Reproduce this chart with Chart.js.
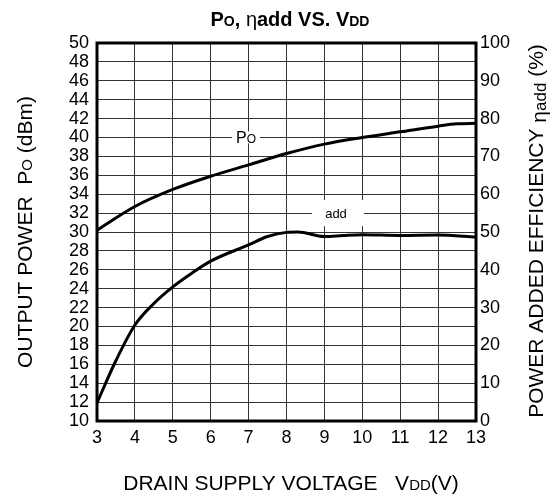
<!DOCTYPE html>
<html>
<head>
<meta charset="utf-8">
<script src="https://cdn.jsdelivr.net/npm/chart.js@4"></script>
<style>
html,body{margin:0;padding:0;background:#fff;}
canvas{display:block;}
</style>
</head>
<body>
<canvas id="c" width="551" height="497"></canvas>
<script>
// ---- data ----
const poVoltage = [3, 4, 5, 6, 7, 8, 9, 10, 11, 12, 12.5, 13];
const poDbm = [30.2, 32.7, 34.5, 35.9, 37.1, 38.3, 39.3, 40.0, 40.6, 41.2, 41.45, 41.5];
const effVoltage = [3, 3.5, 4, 4.5, 5, 5.5, 6, 7, 7.5, 8, 8.3, 9, 9.5, 10, 11, 12, 13];
const effPercent = [4.8, 16, 25.4, 31.1, 35.5, 39.1, 42.3, 46.6, 48.8, 49.9, 50.0, 48.8, 49.1, 49.3, 49.1, 49.2, 48.7];
const xTicks = [3, 4, 5, 6, 7, 8, 9, 10, 11, 12, 13];
const leftTicks = [10,12,14,16,18,20,22,24,26,28,30,32,34,36,38,40,42,44,46,48,50];
const rightTicks = [0,10,20,30,40,50,60,70,80,90,100];

const FONT = '"Liberation Sans", Arial, Helvetica, sans-serif';

function richWidth(ctx, parts, base){
  let w = 0;
  for (const p of parts){
    ctx.font = (p.bold?'bold ':'') + (p.size||base) + 'px ' + FONT;
    w += ctx.measureText(p.t).width;
  }
  return w;
}
function drawRich(ctx, parts, cx, cy, base, rot){
  ctx.save();
  ctx.translate(cx, cy);
  if (rot) ctx.rotate(rot);
  const w = richWidth(ctx, parts, base);
  let x = -w/2;
  ctx.textBaseline = 'alphabetic';
  ctx.textAlign = 'left';
  ctx.fillStyle = '#000';
  for (const p of parts){
    ctx.font = (p.bold?'bold ':'') + (p.size||base) + 'px ' + FONT;
    ctx.fillText(p.t, x, base*0.36 + (p.dy||0));
    x += ctx.measureText(p.t).width;
  }
  ctx.restore();
}

const decor = {
  id: 'decor',
  beforeDatasetsDraw(chart){
    const ctx = chart.ctx;
    const ys = chart.scales.y;
    // label "Po" on the 40 dBm grid line
    const py = ys.getPixelForValue(40);
    ctx.save();
    ctx.fillStyle = '#fff';
    ctx.fillRect(232, py-6, 28, 12);
    ctx.restore();
    drawRich(ctx, [{t:'P', size:16},{t:'O', size:12}], 246, py, 16, 0);
    // label "add" on the 32 dBm grid line
    const ay = ys.getPixelForValue(32);
    ctx.save();
    ctx.fillStyle = '#fff';
    ctx.fillRect(312, ay-13, 52, 26);
    ctx.restore();
    drawRich(ctx, [{t:'add', size:13}], 336, ay, 13, 0);
  },
  afterDraw(chart){
    const ctx = chart.ctx;
    const a = chart.chartArea;
    ctx.save();
    ctx.strokeStyle = '#000';
    ctx.lineWidth = 3;
    ctx.strokeRect(a.left, a.top, a.right-a.left, a.bottom-a.top);
    ctx.restore();
    // title
    drawRich(ctx, [
      {t:'P', size:20, bold:true},{t:'O', size:14, bold:true},{t:', ', size:20, bold:true},
      {t:'η', size:20, bold:false},{t:'add VS. V', size:20, bold:true},{t:'DD', size:14, bold:true}
    ], 290, 19, 20, 0);
    // left axis title
    drawRich(ctx, [
      {t:'OUTPUT POWER  P', size:21},{t:'O', size:15},{t:' (dBm)', size:21}
    ], 24, 232, 21, -Math.PI/2);
    // right axis title
    drawRich(ctx, [
      {t:'POWER ADDED EFFICIENCY ', size:21},{t:'η', size:21, dy:3},{t:'add', size:17, dy:3},{t:' (%)', size:21}
    ], 535, 231, 21, -Math.PI/2);
    // x axis title
    drawRich(ctx, [
      {t:'DRAIN SUPPLY VOLTAGE   V', size:21},{t:'DD', size:15},{t:'(V)', size:21}
    ], 291, 482, 21, 0);
  }
};

new Chart(document.getElementById('c'), {
  type: 'line',
  data: {
    datasets: [
      {
        label: 'Po',
        data: poVoltage.map((v,i)=>({x:v, y:poDbm[i]})),
        yAxisID: 'y',
        borderColor: '#000',
        borderWidth: 3,
        pointRadius: 0,
        fill: false,
        cubicInterpolationMode: 'monotone'
      },
      {
        label: 'ηadd',
        data: effVoltage.map((v,i)=>({x:v, y:effPercent[i]})),
        yAxisID: 'y2',
        borderColor: '#000',
        borderWidth: 3,
        pointRadius: 0,
        fill: false,
        cubicInterpolationMode: 'monotone'
      }
    ]
  },
  options: {
    responsive: false,
    animation: false,
    devicePixelRatio: 1,
    layout: { padding: { top: 43, left: 0, right: 0, bottom: 0 } },
    plugins: { legend: { display: false }, title: { display: false }, tooltip: { enabled: false } },
    scales: {
      x: {
        type: 'linear', min: 3, max: 13,
        afterBuildTicks(s){ s.ticks = xTicks.map(v=>({value:v})); },
        afterFit(s){ s.height = 76; },
        grid: { color: '#333', lineWidth: 1, drawTicks: false },
        border: { display: false },
        ticks: { padding: 6, color: '#000', font: { family: FONT, size: 18 }, maxRotation: 0, autoSkip: false }
      },
      y: {
        type: 'linear', position: 'left', min: 10, max: 50,
        afterBuildTicks(s){ s.ticks = leftTicks.map(v=>({value:v})); },
        afterFit(s){ s.width = 97; },
        grid: { color: '#333', lineWidth: 1, drawTicks: false },
        border: { display: false },
        ticks: { padding: 8, color: '#000', font: { family: FONT, size: 18 }, autoSkip: false }
      },
      y2: {
        type: 'linear', position: 'right', min: 0, max: 100,
        afterBuildTicks(s){ s.ticks = rightTicks.map(v=>({value:v})); },
        afterFit(s){ s.width = 75; },
        grid: { display: false, drawTicks: false },
        border: { display: false },
        ticks: { padding: 4, color: '#000', font: { family: FONT, size: 18 }, autoSkip: false }
      }
    }
  },
  plugins: [decor]
});
</script>
</body>
</html>
